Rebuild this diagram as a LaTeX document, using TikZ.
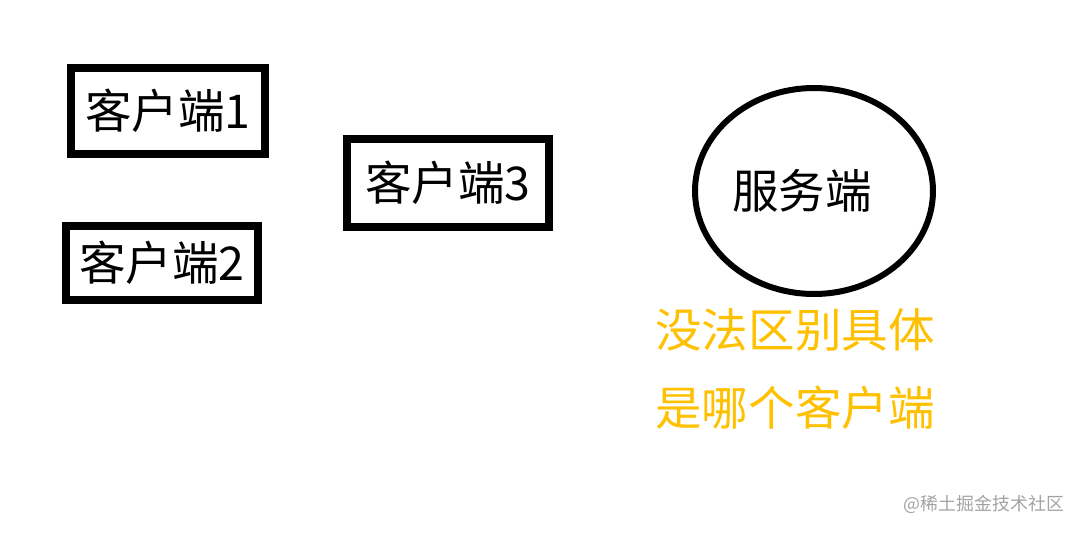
\documentclass[tikz,border=0pt]{standalone}
\usepackage{fontspec}
\setmainfont{Noto Sans CJK SC}
\usepackage{xcolor}
\usepackage{tikz}
\usetikzlibrary{positioning,shapes.geometric}
\definecolor{notegold}{HTML}{FFC000}
\definecolor{markgray}{HTML}{A3A3A3}

\begin{document}
\begin{tikzpicture}[x=0.02cm,y=-0.02cm,
  big/.style={font=\fontsize{26.5}{31}\selectfont},
  clientbox/.style={draw,line width=0.16cm,rectangle,inner sep=0pt,big}]
  \useasboundingbox (0,0) rectangle (1080,532);
  \node[clientbox,minimum width=3.9cm,minimum height=1.72cm] (c1) at (168,111) {客户端1};
  \node[clientbox,minimum width=3.84cm,minimum height=1.48cm] (c2) at (162,263) {客户端2};
  \node[clientbox,minimum width=4.04cm,minimum height=1.76cm] (c3) at (448,183) {客户端3};
  \node[draw,ellipse,line width=0.12cm,inner sep=0pt,minimum width=4.76cm,minimum height=4.12cm,
    label={[big,xshift=-0.24cm]center:服务端}] (server) at (814,191) {};
  \node[big,text=notegold,align=center,font=\fontsize{26.5}{44}\selectfont] (note) at (795,369) {没法区别具体\\是哪个客户端};
  \node[text=markgray,font=\fontsize{10.2}{12}\selectfont] (mark) at (984,504) {@稀土掘金技术社区};
\end{tikzpicture}
\end{document}
